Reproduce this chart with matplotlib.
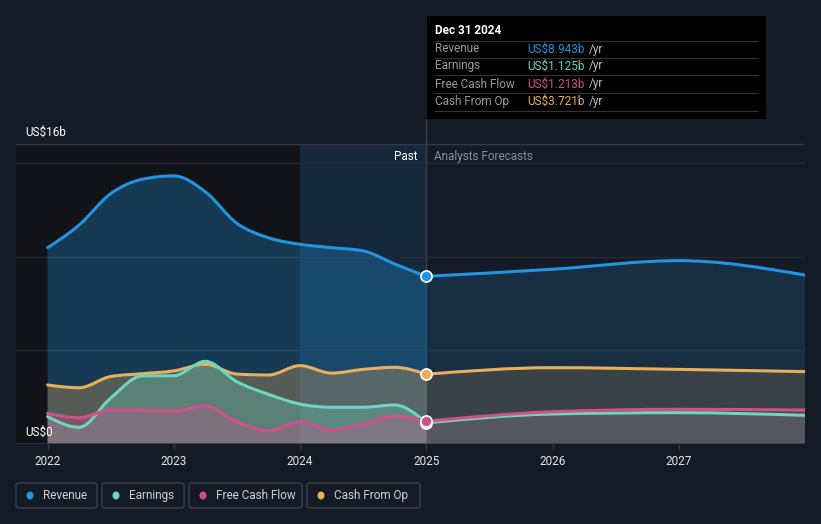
import numpy as np
import matplotlib.pyplot as plt
from matplotlib.path import Path
from matplotlib.patches import PathPatch, Rectangle, FancyBboxPatch, Ellipse

plt.rcParams['font.family'] = ['Roboto', 'DejaVu Sans']

W, H = 821, 524

# data (US$ billions)
past_x = [2022.0, 2022.25, 2022.5, 2022.75, 2023.0, 2023.25, 2023.5,
          2023.75, 2024.0, 2024.25, 2024.5, 2024.75, 2025.0]
fc_x = [2025.0, 2026.0, 2027.0, 2028.0]

revenue_past = [10.47, 11.68, 13.35, 14.12, 14.3, 13.45, 11.77, 11.0, 10.65, 10.47, 10.3, 9.6, 8.943]
revenue_fc = [8.943, 9.32, 9.78, 9.01]
earnings_past = [1.46, 0.89, 2.45, 3.63, 3.64, 4.41, 3.32, 2.65, 2.13, 1.96, 1.96, 2.08, 1.125]
earnings_fc = [1.125, 1.6, 1.67, 1.53]
fcf_past = [1.64, 1.40, 1.81, 1.80, 1.76, 2.03, 1.19, 0.71, 1.19, 0.75, 1.05, 1.49, 1.213]
fcf_fc = [1.213, 1.72, 1.85, 1.81]
cfo_past = [3.15, 3.0, 3.6, 3.75, 3.9, 4.25, 3.73, 3.68, 4.18, 3.78, 3.98, 4.09, 3.721]
cfo_fc = [3.721, 4.07, 3.98, 3.86]

years = [2022, 2023, 2024, 2025, 2026, 2027]
series_names = ['Revenue', 'Earnings', 'Free Cash Flow', 'Cash From Op']
latest = ['US$8.943b', 'US$1.125b', 'US$1.213b', 'US$3.721b']
colors = ['#2394df', '#6cd6c0', '#d0508c', '#e8b05c']

BG = '#151b26'


def monotone_verts(xs, ys):
    # cubic bezier vertices for a monotone-x curve (like d3 curveMonotoneX)
    xs = np.asarray(xs, float)
    ys = np.asarray(ys, float)
    h = np.diff(xs)
    s = np.diff(ys) / h
    n = len(xs)
    m = np.zeros(n)
    for i in range(1, n - 1):
        if s[i - 1] * s[i] > 0:
            p = (s[i - 1] * h[i] + s[i] * h[i - 1]) / (h[i - 1] + h[i])
            m[i] = 2 * np.sign(s[i]) * min(abs(s[i - 1]), abs(s[i]), 0.5 * abs(p))
    m[0] = (3 * s[0] - m[1]) / 2 if n > 2 else s[0]
    m[-1] = (3 * s[-1] - m[-2]) / 2 if n > 2 else s[-1]
    verts = [(xs[0], ys[0])]
    codes = [Path.MOVETO]
    for i in range(n - 1):
        d = h[i] / 3
        verts += [(xs[i] + d, ys[i] + m[i] * d),
                  (xs[i + 1] - d, ys[i + 1] - m[i + 1] * d),
                  (xs[i + 1], ys[i + 1])]
        codes += [Path.CURVE4] * 3
    return verts, codes


def draw_series(ax, xs, ys, color, fill_alpha, z):
    verts, codes = monotone_verts(xs, ys)
    fv = verts + [(xs[-1], 0), (xs[0], 0), (xs[0], 0)]
    fc = codes + [Path.LINETO, Path.LINETO, Path.CLOSEPOLY]
    ax.add_patch(PathPatch(Path(fv, fc), facecolor=color, edgecolor='none',
                           alpha=fill_alpha, zorder=z))
    ax.add_patch(PathPatch(Path(verts, codes), facecolor='none', edgecolor=color,
                           lw=2.2, zorder=z + 10, capstyle='round'))


fig = plt.figure(figsize=(W / 100, H / 100), dpi=100)
fig.patch.set_facecolor(BG)


def fx(px):
    return px / W


def fy(py):
    return (H - py) / H


ax = fig.add_axes([fx(16), fy(444), fx(805) - fx(16), fy(120) - fy(444)])
ax.set_facecolor(BG)
ax.set_xlim(2021.75, 2028.0)
ax.set_ylim(0, 17.28)
for sp in ax.spines.values():
    sp.set_visible(False)
ax.set_yticks([])
ax.set_xticks(years)
ax.set_xticklabels([str(y) for y in years], color='#e6e6e6', fontsize=8.5)
ax.tick_params(axis='x', length=4, color='#3a404b', pad=4)

# past (dark) background and last-year highlight
ax.add_patch(Rectangle((2021.75, 0), 2.25, 16, facecolor='#111318', edgecolor='none', zorder=0))
ax.add_patch(Rectangle((2024.0, 0), 1.0, 16, facecolor='#1f6fb0', alpha=0.16, edgecolor='none', zorder=0.5))

# grid
for g in [5, 10, 15]:
    ax.axhline(g, color='#252b36', lw=1, zorder=1)
ax.axhline(16, color='#353b46', lw=1, zorder=1)
ax.axhline(0, color='#353b46', lw=1.2, zorder=30)
ax.plot([2025, 2025], [0, 17.28], color='#38414f', lw=1, zorder=1, clip_on=False)

pasts = [revenue_past, earnings_past, fcf_past, cfo_past]
fcs = [revenue_fc, earnings_fc, fcf_fc, cfo_fc]
order = [0, 3, 1, 2]
for k, i in enumerate(order):
    draw_series(ax, past_x, pasts[i], colors[i], 0.3, 2 + k)
    draw_series(ax, fc_x, fcs[i], colors[i], 0.16, 2 + k)
for k, i in enumerate(order):
    ax.plot([2025.0], [pasts[i][-1]], 'o', ms=8, mfc=colors[i], mec='white', mew=1.2, zorder=25 + k)

ax.text(2024.93, 15.35, 'Past', ha='right', va='center', color='white', fontsize=8.5)
ax.text(2025.06, 15.35, 'Analysts Forecasts', ha='left', va='center', color='#8a9099', fontsize=8.5)

fig.text(fx(25), fy(132), 'US$16b', color='white', fontsize=8.5, va='center')
fig.text(fx(25), fy(432), 'US$0', color='white', fontsize=8.5, va='center')

# tooltip
fig.patches.append(Rectangle((fx(427), fy(119)), fx(766) - fx(427), fy(16) - fy(119),
                             transform=fig.transFigure, facecolor='black', edgecolor='none', zorder=40))
fig.text(fx(435), fy(31), 'Dec 31 2024', color='white', fontsize=8.5, fontweight='bold',
         va='center', zorder=41)
row_y = [49, 66, 84, 101]
for yy in [41, 58, 75, 93, 111]:
    fig.add_artist(plt.Line2D([fx(435), fx(758)], [fy(yy), fy(yy)], transform=fig.transFigure,
                              color='#333333', lw=0.8, zorder=41))
for name, val, col, yy in zip(series_names, latest, colors, row_y):
    fig.text(fx(435), fy(yy), name, color='#9a9a9a', fontsize=8.5, va='center', zorder=41)
    t = fig.text(fx(527), fy(yy), val, color=col, fontsize=8.5, va='center', zorder=41)
    fig.add_artist(plt.Annotation('/yr', xy=(1, 0.5), xycoords=t, xytext=(3, 0),
                                  textcoords='offset points', color='#bdbdbd', fontsize=8.5,
                                  va='center', ha='left', zorder=41))

# legend
boxes = [(16, 97), (102, 184), (189, 302), (307, 420)]
for (x0, x1), name, col in zip(boxes, series_names, colors):
    fig.patches.append(FancyBboxPatch((fx(x0), fy(508)), fx(x1) - fx(x0), fy(483) - fy(508),
                                      boxstyle='round,pad=0,rounding_size=0.004',
                                      transform=fig.transFigure, facecolor='none',
                                      edgecolor='#3b414c', lw=1))
    fig.patches.append(Ellipse((fx(x0 + 14), fy(495.5)), 7 / W, 8 / H, transform=fig.transFigure,
                               facecolor=col, edgecolor='none'))
    fig.text(fx(x0 + 27), fy(495.5), name, color='#d0d0d0', fontsize=8.5, va='center')

fig.savefig('out.png', dpi=100, facecolor=BG)
